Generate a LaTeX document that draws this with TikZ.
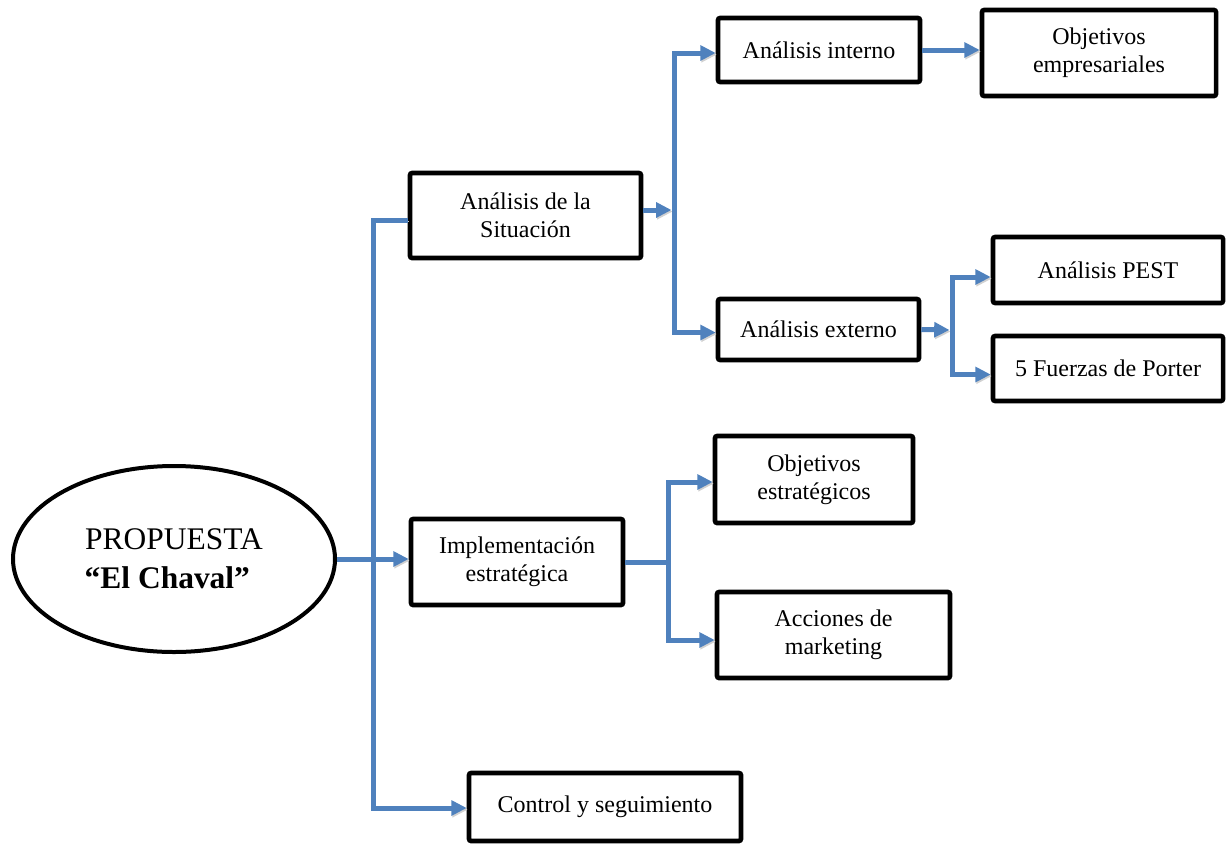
\documentclass[tikz,border=0pt]{standalone}
\usepackage{fontspec}
\setmainfont{Liberation Serif}
\usetikzlibrary{arrows.meta,shapes.geometric,calc}
\definecolor{linkblue}{HTML}{4F81BD}
\tikzset{
  box/.style={draw=black, line width=3.4pt, rounded corners=1.5pt, fill=white, align=center, inner sep=0pt,
    font=\fontsize{18}{21}\selectfont},
  conn/.style={draw=linkblue, line width=3.75pt,
    preaction={draw=black!18, transform canvas={shift={(0.8pt,-1.2pt)}}}},
  arr/.style={-{Triangle[length=11.5pt,width=11pt]}},
}
\begin{document}
\begin{tikzpicture}[x=0.75pt,y=-0.75pt]
\useasboundingbox (0,0) rectangle (1227,843);
% nodes
\node[draw=black, line width=3pt, ellipse, inner sep=0pt, minimum width=241.5pt, minimum height=139.5pt, align=center,
  font=\fontsize{23.6}{29}\selectfont] (ell) at (174,559) {PROPUESTA\\\textbf{“El Chaval”}\hspace*{10pt}};
\node[box, minimum width=173.25pt, minimum height=63.75pt] (sit) at (525.5,215.5) {Análisis de la\\Situación};
\node[box, minimum width=151.5pt, minimum height=48pt] (int) at (819,50) {Análisis interno};
\node[box, minimum width=175.5pt, minimum height=64.5pt] (emp) at (1099,53) {Objetivos\\empresariales};
\node[box, minimum width=150.75pt, minimum height=45.75pt] (ext) at (818.5,329.5) {Análisis externo};
\node[box, minimum width=172.5pt, minimum height=49.5pt] (pest) at (1108,270) {Análisis PEST};
\node[box, minimum width=172.5pt, minimum height=48.75pt] (por) at (1108,368.5) {5 Fuerzas de Porter};
\node[box, minimum width=159pt, minimum height=64.5pt] (imp) at (517,562) {Implementación\\estratégica};
\node[box, minimum width=148.5pt, minimum height=65.25pt] (oes) at (814,479.5) {Objetivos\\estratégicos};
\node[box, minimum width=174.75pt, minimum height=64.5pt] (acc) at (833.5,635) {Acciones de\\marketing};
\node[box, minimum width=204pt, minimum height=51pt] (ctl) at (605,807) {Control y seguimiento};
% branch points
\coordinate (t1) at (373,220);
\coordinate (b1) at (674,210);
\coordinate (b2) at (952,330);
\coordinate (b3) at (668,562);
% connectors
\draw[conn,arr] ([shift={(0,4.5)}]sit.west) -- (t1) |- ([shift={(0,1)}]ctl.west);
\draw[conn,arr] (ell.east) -- (ell.east -| imp.west);
\draw[conn,arr] ([shift={(0,-5.5)}]sit.east) -- ([shift={(-2.5,0)}]b1);
\draw[conn] (674,52) -- (674,333);
\draw[conn,arr] (b1) |- ([shift={(0,3)}]int.west);
\draw[conn,arr] (b1) |- ([shift={(0,3)}]ext.west);
\draw[conn,arr] (int.east) -- (int.east -| emp.west);
\draw[conn,arr] (ext.east) -- ([shift={(-2.5,0)}]b2);
\draw[conn] (952,277) -- (952,374);
\draw[conn,arr] (b2) |- ([shift={(0,7)}]pest.west);
\draw[conn,arr] (b2) |- ([shift={(0,6)}]por.west);
\draw[conn] (imp.east) -- (b3);
\draw[conn] (668,482) -- (668,640);
\draw[conn,arr] (b3) |- ([shift={(0,2.5)}]oes.west);
\draw[conn,arr] (b3) |- ([shift={(0,5)}]acc.west);
\end{tikzpicture}
\end{document}
